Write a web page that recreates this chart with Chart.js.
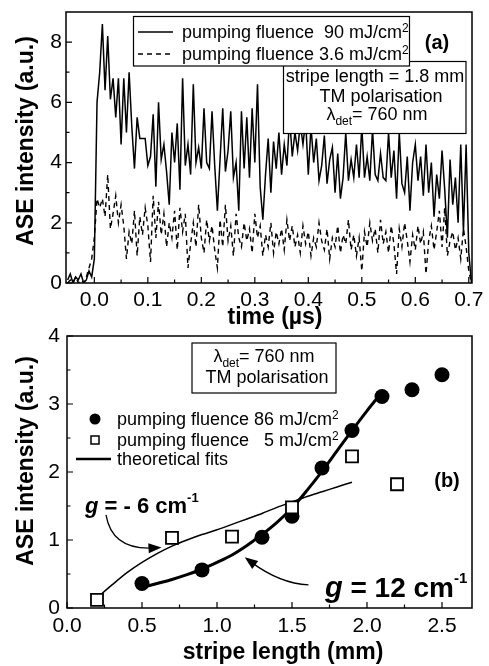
<!DOCTYPE html>
<html>
<head>
<meta charset="utf-8">
<script src="https://cdn.jsdelivr.net/npm/chart.js@4"></script>
<style>
  body { margin: 0; background: #fff; }
  #wrap { position: relative; width: 489px; height: 666px; }
  canvas { position: absolute; left: 0; top: 0; }
</style>
</head>
<body>
<div id="wrap">
  <canvas id="ca" width="489" height="666"></canvas>
  <canvas id="cb" width="489" height="666"></canvas>
</div>
<script>
// Two-panel ASE figure: (a) time traces, (b) intensity vs stripe length.

const FONT = "'Liberation Sans', Arial, Helvetica, sans-serif";

// ---- panel (a) data: sampled every 5 ns from -0.05 us
const T_START = -0.05;
const T_STEP = 0.005;
const I_90 = [
  0.1, 0.3, 0.0, 0.2, 0.1, 0.3, 0.0, 0.1, 0.4, 0.2,
  0.8, 6.0, 7.0, 8.6, 6.4, 8.2, 6.1, 6.8, 5.5, 6.8,
  4.6, 6.8, 5.0, 7.0, 5.2, 3.8, 5.5, 4.8, 4.8, 4.8,
  3.9, 4.2, 5.6, 3.2, 6.0, 4.1, 4.6, 3.7, 2.6, 5.0,
  4.0, 5.3, 3.1, 6.8, 3.9, 4.6, 3.6, 6.6, 4.0, 4.5,
  3.8, 5.8, 4.0, 3.8, 5.7, 3.9, 2.4, 4.1, 5.8, 3.7,
  4.4, 5.7, 3.5, 4.0, 2.4, 5.7, 3.8, 5.5, 3.5, 5.8,
  4.0, 6.6, 3.2, 2.1, 3.6, 4.8, 3.0, 4.7, 3.8, 5.0,
  3.6, 4.6, 3.9, 5.5, 4.2, 5.0, 4.4, 5.3, 4.6, 5.4,
  3.6, 5.2, 4.0, 4.8, 3.4, 3.9, 4.9, 3.3, 4.1, 4.5,
  3.0, 4.3, 2.8, 3.5, 5.0, 3.4, 4.1, 3.5, 4.6, 3.5,
  5.2, 3.5, 4.2, 3.4, 5.1, 3.6, 3.4, 4.3, 3.5, 3.4,
  5.0, 3.5, 4.4, 2.8, 5.0, 3.3, 3.0, 4.2, 2.4, 4.0,
  4.6, 3.4, 4.2, 2.9, 4.6, 3.0, 4.0, 2.2, 3.6, 2.8,
  4.4, 3.1, 1.5, 4.1, 2.6, 3.5, 2.0, 4.6, 1.7, 4.6,
  1.0, 0.0
];
const I_36 = [
  0.0, 0.1, 0.0, 0.2, 0.0, 0.1, 0.0, 0.2, 0.5, 0.8,
  1.5, 2.8, 2.5, 2.8, 2.2, 3.6, 1.8, 2.3, 2.9, 2.0,
  2.6, 1.9, 0.8, 1.7, 1.3, 2.4, 0.9, 2.2, 1.6, 2.5,
  1.9, 0.7, 2.9, 1.5, 2.7, 1.6, 2.3, 1.2, 2.0, 1.5,
  2.4, 1.1, 2.5, 1.7, 2.3, 0.5, 1.3, 2.0, 1.2, 2.6,
  1.5, 1.0, 2.1, 1.4, 1.9, 1.1, 0.5, 2.1, 1.2, 2.6,
  1.4, 1.9, 0.9, 2.3, 1.5, 1.2, 2.0, 1.4, 1.8, 1.0,
  2.3, 1.5, 1.9, 0.9, 1.6, 1.2, 2.0, 1.0, 1.7, 1.3,
  1.8, 1.1, 2.1, 1.4, 1.9, 1.2, 1.6, 1.0, 1.9, 1.3,
  1.7, 0.9, 1.5, 1.2, 2.0, 1.4, 1.1, 1.8, 0.8, 1.5,
  1.2, 1.9, 1.0, 1.6, 1.3, 2.1, 1.1, 1.6, 0.9, 1.5,
  0.4, 1.7, 1.2, 2.0, 1.4, 1.8, 1.0, 2.1, 1.3, 1.7,
  1.0, 1.9, 1.3, 0.3, 1.8, 1.2, 2.0, 1.4, 0.7, 1.6,
  1.1, 1.9, 1.3, 1.7, 0.3, 1.4, 1.9, 1.1, 1.7, 2.4,
  1.2, 2.5, 0.9, 1.4, 1.7, 1.1, 1.5, 0.8, 1.8, 1.2,
  0.4, 0.0
];
const A_X_TICKS = [0, 0.1, 0.2, 0.3, 0.4, 0.5, 0.6, 0.7];
const A_X_MINOR = [0.05, 0.15, 0.25, 0.35, 0.45, 0.55, 0.65];
const A_Y_TICKS = [0, 2, 4, 6, 8];
const A_Y_MINOR = [1, 3, 5, 7];

// ---- panel (b) data
const L_86 = [0.5, 0.9, 1.3, 1.5, 1.7, 1.9, 2.1, 2.3, 2.5];
const I_86 = [0.36, 0.56, 1.04, 1.35, 2.06, 2.61, 3.11, 3.21, 3.43];
const L_5 = [0.2, 0.7, 1.1, 1.5, 1.9, 2.2];
const I_5 = [0.12, 1.03, 1.05, 1.48, 2.23, 1.82];
const FIT12_L = [0.5, 0.6, 0.7, 0.8, 0.9, 1.0, 1.1, 1.2, 1.3, 1.4, 1.5, 1.6, 1.7, 1.8, 1.9, 2.0, 2.08];
const FIT12_I = [0.30, 0.36, 0.42, 0.49, 0.57, 0.67, 0.78, 0.92, 1.08, 1.26, 1.47, 1.73, 2.01, 2.31, 2.61, 2.90, 3.12];
const FITM6_L = [0.2, 0.3, 0.4, 0.5, 0.6, 0.7, 0.8, 0.9, 1.0, 1.1, 1.2, 1.3, 1.4, 1.5, 1.6, 1.7, 1.8, 1.9];
const FITM6_I = [0.15, 0.34, 0.52, 0.67, 0.80, 0.91, 1.00, 1.08, 1.15, 1.23, 1.31, 1.39, 1.48, 1.56, 1.64, 1.71, 1.78, 1.85];
const B_X_TICKS = [0, 0.5, 1.0, 1.5, 2.0, 2.5];
const B_X_MINOR = [0.25, 0.75, 1.25, 1.75, 2.25];
const B_Y_TICKS = [0, 1, 2, 3, 4];
const B_Y_MINOR = [0.5, 1.5, 2.5, 3.5];

const toXY = (xs, ys) => ys.map((v, i) => ({ x: xs[i], y: v }));
const timesA = I_90.map((_, i) => T_START + i * T_STEP);

const F = (px, w) => (w ? w + " " : "") + px + "px " + FONT;

// text made of runs: [text, font, dy]
function runs(ctx, parts, x, y, align) {
  let w = 0;
  for (const p of parts) { ctx.font = p[1]; w += ctx.measureText(p[0]).width; }
  let cx = align === "center" ? x - w / 2 : x;
  ctx.textAlign = "left";
  ctx.textBaseline = "alphabetic";
  for (const p of parts) {
    ctx.font = p[1];
    ctx.fillText(p[0], cx, y + (p[2] || 0));
    cx += ctx.measureText(p[0]).width;
  }
}

function vTitle(ctx, s, x, y) {
  ctx.save();
  ctx.translate(x, y);
  ctx.rotate(-Math.PI / 2);
  ctx.font = F(23, "bold");
  ctx.textAlign = "center";
  ctx.textBaseline = "middle";
  ctx.fillText(s, 0, 0);
  ctx.restore();
}

function hTitle(ctx, s, x, y) {
  ctx.font = F(23, "bold");
  ctx.textAlign = "center";
  ctx.textBaseline = "middle";
  ctx.fillText(s, x, y);
}

function frame(chart, xMaj, xMin, yMaj, yMin) {
  const { ctx, chartArea: a, scales: { x, y } } = chart;
  ctx.save();
  ctx.strokeStyle = "#000";
  ctx.lineWidth = 1.5;
  ctx.strokeRect(a.left, a.top, a.right - a.left, a.bottom - a.top);
  ctx.lineWidth = 1.2;
  ctx.beginPath();
  const xt = (vals, len) => vals.forEach((v) => {
    const px = x.getPixelForValue(v);
    ctx.moveTo(px, a.bottom); ctx.lineTo(px, a.bottom - len);
  });
  const yt = (vals, len) => vals.forEach((v) => {
    const py = y.getPixelForValue(v);
    ctx.moveTo(a.left, py); ctx.lineTo(a.left + len, py);
  });
  xt(xMaj, 6); xt(xMin, 3.5); yt(yMaj, 6); yt(yMin, 3.5);
  ctx.stroke();
  ctx.restore();
}

function box(ctx, x, y, w, h) {
  ctx.fillStyle = "#fff";
  ctx.fillRect(x, y, w, h);
  ctx.strokeStyle = "#000";
  ctx.lineWidth = 1.2;
  ctx.strokeRect(x, y, w, h);
  ctx.fillStyle = "#000";
}

function curvedArrow(chart, p0, c, p1) {
  const { ctx, scales: { x, y } } = chart;
  const P = (p) => [x.getPixelForValue(p[0]), y.getPixelForValue(p[1])];
  const a = P(p0), b = P(c), e = P(p1);
  const ang = Math.atan2(e[1] - b[1], e[0] - b[0]);
  const L = 13, W = 5;
  ctx.save();
  ctx.strokeStyle = "#000";
  ctx.fillStyle = "#000";
  ctx.lineWidth = 1.3;
  ctx.beginPath();
  ctx.moveTo(a[0], a[1]);
  ctx.quadraticCurveTo(b[0], b[1], e[0] - 8 * Math.cos(ang), e[1] - 8 * Math.sin(ang));
  ctx.stroke();
  ctx.beginPath();
  ctx.moveTo(e[0], e[1]);
  ctx.lineTo(e[0] - L * Math.cos(ang) + W * Math.sin(ang), e[1] - L * Math.sin(ang) - W * Math.cos(ang));
  ctx.lineTo(e[0] - L * Math.cos(ang) - W * Math.sin(ang), e[1] - L * Math.sin(ang) + W * Math.cos(ang));
  ctx.closePath();
  ctx.fill();
  ctx.restore();
}

const panelA = {
  id: "panelA",
  afterDatasetsDraw(chart) {
    const ctx = chart.ctx;
    ctx.save();
    // info box
    box(ctx, 283.5, 61.5, 182.5, 72);
    runs(ctx, [["stripe length = 1.8 mm", F(18)]], 375, 82, "center");
    runs(ctx, [["TM polarisation", F(18)]], 381, 101.5, "center");
    runs(ctx, [["λ", F(18)], ["det", F(12), 5], ["= 760 nm", F(18)]], 377, 119.5, "center");
    // legend box
    box(ctx, 133.5, 16.5, 276, 49.5);
    ctx.lineWidth = 1.5;
    ctx.beginPath(); ctx.moveTo(138, 32); ctx.lineTo(173, 32); ctx.stroke();
    ctx.setLineDash([5, 4]);
    ctx.beginPath(); ctx.moveTo(138, 54); ctx.lineTo(174, 54); ctx.stroke();
    ctx.setLineDash([]);
    runs(ctx, [["pumping fluence  90 mJ/cm", F(18)], ["2", F(12), -6]], 182, 38);
    runs(ctx, [["pumping fluence 3.6 mJ/cm", F(18)], ["2", F(12), -6]], 182, 59.5);
    ctx.restore();
  },
  afterDraw(chart) {
    const ctx = chart.ctx;
    frame(chart, A_X_TICKS, A_X_MINOR, A_Y_TICKS, A_Y_MINOR);
    ctx.save();
    ctx.fillStyle = "#000";
    vTitle(ctx, "ASE intensity (a.u.)", 27, 141);
    hTitle(ctx, "time (µs)", 275, 318);
    runs(ctx, [["(a)", F(20, "bold")]], 437, 48.5, "center");
    ctx.restore();
  },
};

const panelB = {
  id: "panelB",
  afterDatasetsDraw(chart) {
    const ctx = chart.ctx;
    ctx.save();
    box(ctx, 192, 343, 144, 50);
    runs(ctx, [["λ", F(18)], ["det", F(12), 5], ["= 760 nm", F(18)]], 264, 361.5, "center");
    runs(ctx, [["TM polarisation", F(18)]], 267, 383, "center");
    // legend
    ctx.beginPath(); ctx.arc(95, 419, 5.5, 0, Math.PI * 2); ctx.fill();
    ctx.lineWidth = 1.5;
    ctx.strokeRect(91, 436, 8, 8);
    ctx.lineWidth = 2.5;
    ctx.beginPath(); ctx.moveTo(76, 459); ctx.lineTo(111, 459); ctx.stroke();
    runs(ctx, [["pumping fluence 86 mJ/cm", F(18)], ["2", F(12), -6]], 117, 425);
    runs(ctx, [["pumping fluence   5 mJ/cm", F(18)], ["2", F(12), -6]], 117, 445.5);
    runs(ctx, [["theoretical fits", F(18)]], 117, 464.5);
    // annotations
    runs(ctx, [["(b)", F(20, "bold")]], 447, 487, "center");
    runs(ctx, [["g", F(22, "italic bold")], [" = - 6 cm", F(22, "bold")], ["-1", F(13, "bold"), -11]], 85, 513);
    runs(ctx, [["g", F(29, "italic bold")], [" = 12 cm", F(28, "bold")], ["-1", F(15, "bold"), -14]], 325, 597);
    ctx.restore();
    curvedArrow(chart, [0.26, 1.37], [0.30, 0.85], [0.63, 0.89]);
    curvedArrow(chart, [1.61, 0.34], [1.42, 0.36], [1.185, 0.745]);
  },
  afterDraw(chart) {
    const ctx = chart.ctx;
    frame(chart, B_X_TICKS, B_X_MINOR, B_Y_TICKS, B_Y_MINOR);
    ctx.save();
    ctx.fillStyle = "#000";
    vTitle(ctx, "ASE intensity (a.u.)", 27, 461);
    hTitle(ctx, "stripe length (mm)", 283, 653);
    ctx.restore();
  },
};

function axis(min, max, ticks, dec, size, pad) {
  return {
    type: "linear", min, max,
    grid: { display: false, drawTicks: false },
    border: { display: false },
    ticks: {
      color: "#000", padding: pad, font: { family: FONT, size: 21 },
      callback: (v) => Number(v).toFixed(dec),
    },
    afterBuildTicks: (s) => { s.ticks = ticks.map((v) => ({ value: v })); },
    afterFit: (s) => {
      if (s.isHorizontal()) s.height = size; else s.width = size;
      s.paddingTop = 0; s.paddingBottom = 0; s.paddingLeft = 0; s.paddingRight = 0;
    },
  };
}

const common = {
  responsive: false,
  animation: false,
  events: [],
  plugins: { legend: { display: false }, tooltip: { enabled: false } },
};

new Chart(document.getElementById("ca"), {
  type: "line",
  data: {
    datasets: [
      {
        label: "pumping fluence 90 mJ/cm²", data: toXY(timesA, I_90),
        borderColor: "#000", borderWidth: 1.5, pointRadius: 0, tension: 0,
      },
      {
        label: "pumping fluence 3.6 mJ/cm²", data: toXY(timesA, I_36),
        borderColor: "#000", borderWidth: 1.4, borderDash: [5, 4], pointRadius: 0, tension: 0,
      },
    ],
  },
  options: Object.assign({}, common, {
    layout: { padding: { top: 12, right: 17, bottom: 333, left: 0 } },
    scales: {
      x: axis(-0.053, 0.706, A_X_TICKS, 1, 50, 5),
      y: axis(0, 9, A_Y_TICKS, 0, 66, 4),
    },
  }),
  plugins: [panelA],
});

new Chart(document.getElementById("cb"), {
  type: "line",
  data: {
    datasets: [
      {
        type: "scatter", label: "pumping fluence 5 mJ/cm²", data: toXY(L_5, I_5),
        pointStyle: "rect", pointRadius: 8.5, backgroundColor: "#fff",
        borderColor: "#000", borderWidth: 1.8, showLine: false,
      },
      {
        type: "scatter", label: "pumping fluence 86 mJ/cm²", data: toXY(L_86, I_86),
        pointStyle: "circle", pointRadius: 7.5, backgroundColor: "#000",
        borderColor: "#000", borderWidth: 0, showLine: false,
      },
      {
        label: "theoretical fits", data: toXY(FIT12_L, FIT12_I),
        borderColor: "#000", borderWidth: 3, pointRadius: 0, tension: 0.3,
      },
      {
        label: "theoretical fits", data: toXY(FITM6_L, FITM6_I),
        borderColor: "#000", borderWidth: 1.5, pointRadius: 0, tension: 0.3,
      },
    ],
  },
  options: Object.assign({}, common, {
    layout: { padding: { top: 336, right: 17, bottom: 8, left: 0 } },
    scales: {
      x: axis(0, 2.7, B_X_TICKS, 1, 50, 6),
      y: axis(0, 4, B_Y_TICKS, 0, 67, 7),
    },
  }),
  plugins: [panelB],
});
</script>
</body>
</html>
